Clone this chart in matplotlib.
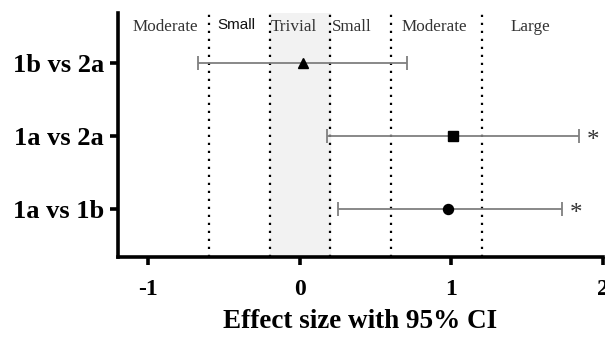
import matplotlib
matplotlib.use("Agg")
import matplotlib.pyplot as plt

categories = ["1a vs 1b", "1a vs 2a", "1b vs 2a"]
positions = [1, 2, 3]
effect = [0.98, 1.01, 0.02]
ci_low = [0.25, 0.18, -0.67]
ci_high = [1.73, 1.84, 0.71]
markers = ["o", "s", "^"]
marker_sizes = [7.2, 7.8, 7.5]
significant = [True, True, False]

thresholds = [-0.6, -0.2, 0.2, 0.6, 1.2]
zone_labels = ["Moderate", "Small", "Trivial", "Small", "Moderate", "Large"]
zone_label_x = [-0.89, -0.42, -0.04, 0.345, 0.89, 1.52]
zone_label_sans = [False, True, False, False, False, False]

xticks = [-1, 0, 1, 2]
xticklabels = ["-1", "0", "1", "2"]

serif = ["Liberation Serif", "DejaVu Serif"]

fig = plt.figure(figsize=(6.05, 3.43), dpi=100)
ax = fig.add_axes([118 / 605, 1 - 257 / 343, (603 - 118) / 605, (257 - 13) / 343])

ax.set_xlim(-1.2, 2.0)
ax.set_ylim(0.34, 3.68)

ax.axvspan(-0.2, 0.2, color="#f2f2f2", zorder=0)
for t in thresholds:
    ax.axvline(t, color="black", linestyle=(0, (1, 2.6)), linewidth=1.6, zorder=1)

for lab, lx, sans in zip(zone_labels, zone_label_x, zone_label_sans):
    if sans:
        ax.text(lx, 3.51, lab, ha="center", va="center", fontsize=11,
                family=["Liberation Sans", "DejaVu Sans"], color="#111111")
    else:
        ax.text(lx, 3.49, lab, ha="center", va="center", fontsize=12.3,
                family=serif, color="#333333")

for y, e, lo, hi, m, ms, sig in zip(positions, effect, ci_low, ci_high, markers,
                                     marker_sizes, significant):
    ax.errorbar([e], [y], xerr=[[e - lo], [hi - e]], fmt="none", ecolor="#7f7f7f",
                elinewidth=1.3, capsize=5, capthick=1.3, zorder=2)
    ax.plot([e], [y], marker=m, color="black", markersize=ms, linestyle="none", zorder=3)
    if sig:
        ax.text(hi + 0.095, y - 0.07, "*", ha="center", va="center", fontsize=18,
                family=serif, color="#333333")

ax.spines["top"].set_visible(False)
ax.spines["right"].set_visible(False)
ax.spines["left"].set_linewidth(2.6)
ax.spines["bottom"].set_linewidth(2.6)

ax.set_yticks(positions)
ax.set_yticklabels(categories, fontsize=19, fontweight="bold", family=serif)
ax.set_xticks(xticks)
ax.set_xticklabels(xticklabels, fontsize=17, fontweight="bold", family=serif)
ax.tick_params(axis="both", width=2.6, length=6, direction="out", pad=4)
ax.tick_params(axis="x", pad=10)

ax.set_xlabel("Effect size with 95% CI", fontsize=19.5, fontweight="bold",
              family=serif, labelpad=6)

fig.savefig("out.png", dpi=100)
